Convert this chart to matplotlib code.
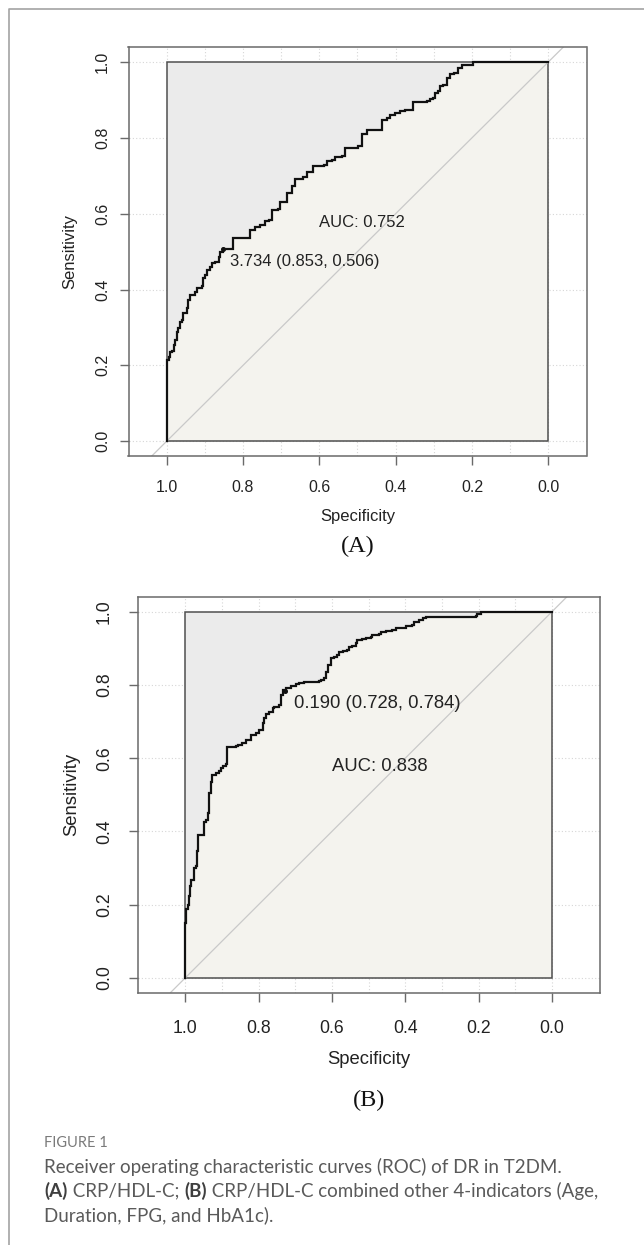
import matplotlib
matplotlib.use('Agg')
import matplotlib.pyplot as plt
from matplotlib.patches import Rectangle

# ---------------- data ----------------
spec_a = [1.000, 1.000, 0.995, 0.991, 0.986, 0.982, 0.978, 0.973, 0.969, 0.965, 0.960, 0.956,
          0.947, 0.943, 0.938, 0.925, 0.921, 0.908, 0.904, 0.899, 0.895, 0.886, 0.882, 0.873,
          0.864, 0.860, 0.853, 0.825, 0.825, 0.790, 0.781, 0.768, 0.755, 0.742, 0.733, 0.724,
          0.707, 0.703, 0.690, 0.685, 0.672, 0.663, 0.642, 0.633, 0.616, 0.589, 0.580, 0.567,
          0.559, 0.541, 0.532, 0.498, 0.489, 0.475, 0.445, 0.436, 0.423, 0.415, 0.402, 0.388,
          0.375, 0.362, 0.354, 0.318, 0.310, 0.301, 0.297, 0.288, 0.284, 0.275, 0.266, 0.257,
          0.247, 0.237, 0.226, 0.204, 0.197, 0.000]
sens_a = [0.000, 0.214, 0.223, 0.236, 0.238, 0.254, 0.267, 0.289, 0.298, 0.315, 0.320, 0.337,
          0.350, 0.373, 0.386, 0.394, 0.403, 0.408, 0.430, 0.439, 0.452, 0.460, 0.469, 0.473,
          0.487, 0.500, 0.507, 0.507, 0.536, 0.536, 0.557, 0.566, 0.571, 0.581, 0.584, 0.609,
          0.612, 0.630, 0.632, 0.654, 0.672, 0.691, 0.698, 0.711, 0.725, 0.729, 0.738, 0.741,
          0.750, 0.753, 0.773, 0.778, 0.810, 0.820, 0.821, 0.846, 0.853, 0.861, 0.866, 0.870,
          0.873, 0.873, 0.894, 0.896, 0.903, 0.905, 0.917, 0.923, 0.936, 0.940, 0.958, 0.967,
          0.972, 0.984, 0.991, 0.991, 1.000, 1.000]

spec_b = [1.000, 1.000, 0.997, 0.993, 0.991, 0.987, 0.985, 0.975, 0.975, 0.971, 0.968, 0.966,
          0.953, 0.950, 0.944, 0.939, 0.936, 0.930, 0.926, 0.916, 0.907, 0.903, 0.898, 0.889,
          0.886, 0.862, 0.857, 0.844, 0.835, 0.821, 0.807, 0.798, 0.789, 0.785, 0.780, 0.771,
          0.762, 0.757, 0.744, 0.739, 0.733, 0.726, 0.712, 0.698, 0.689, 0.676, 0.635, 0.630,
          0.621, 0.617, 0.612, 0.603, 0.594, 0.585, 0.580, 0.571, 0.558, 0.553, 0.544, 0.535,
          0.531, 0.517, 0.508, 0.494, 0.490, 0.471, 0.467, 0.453, 0.435, 0.426, 0.408, 0.399,
          0.381, 0.376, 0.362, 0.353, 0.344, 0.208, 0.204, 0.194, 0.000]
sens_b = [0.000, 0.151, 0.187, 0.199, 0.223, 0.250, 0.268, 0.276, 0.300, 0.305, 0.346, 0.391,
          0.391, 0.427, 0.432, 0.450, 0.505, 0.536, 0.555, 0.559, 0.564, 0.573, 0.579, 0.584,
          0.630, 0.632, 0.636, 0.641, 0.650, 0.664, 0.668, 0.677, 0.696, 0.709, 0.721, 0.725,
          0.737, 0.741, 0.746, 0.773, 0.786, 0.793, 0.798, 0.802, 0.805, 0.807, 0.811, 0.814,
          0.818, 0.836, 0.855, 0.875, 0.877, 0.882, 0.889, 0.893, 0.896, 0.905, 0.907, 0.914,
          0.923, 0.925, 0.929, 0.932, 0.936, 0.938, 0.944, 0.947, 0.950, 0.955, 0.956, 0.962,
          0.964, 0.973, 0.977, 0.982, 0.986, 0.988, 0.995, 1.000, 1.000]

thr_a = (0.853, 0.506)
thr_b = (0.728, 0.784)
thr_label_a = "3.734 (0.853, 0.506)"
thr_label_b = "0.190 (0.728, 0.784)"
auc_label_a = "AUC: 0.752"
auc_label_b = "AUC: 0.838"

tick_vals = [1.0, 0.8, 0.6, 0.4, 0.2, 0.0]
tick_labels = ["1.0", "0.8", "0.6", "0.4", "0.2", "0.0"]
grid_x = [i / 10 for i in range(11)]
grid_y = [0.0, 0.2, 0.4, 0.6, 0.8, 1.0]

caption_title = "FIGURE 1"
caption_line1 = "Receiver operating characteristic curves (ROC) of DR in T2DM."
caption_line2 = [("(A)", "bold"), (" CRP/HDL-C; ", "normal"), ("(B)", "bold"),
                 (" CRP/HDL-C combined other 4-indicators (Age,", "normal")]
caption_line3 = "Duration, FPG, and HbA1c)."

# ---------------- figure ----------------
W, H = 644, 1245
fig = plt.figure(figsize=(W / 100, H / 100), dpi=100)
fig.patch.set_facecolor('white')

SANS = ['Liberation Sans', 'DejaVu Sans']
SERIF = ['Liberation Serif', 'DejaVu Serif']
CAP = ['Lato', 'DejaVu Sans']

GRAY_FILL = '#ebebeb'
BEIGE_FILL = '#f4f3ee'
SPINE = '#6a6a6a'


def frac(px, py):
    return px / W, 1 - py / H


# outer frame (top and left border)
fig.add_artist(plt.Line2D([9.3 / W, 9.3 / W, 1.0], [0.0, 1 - 9.3 / H, 1 - 9.3 / H],
                          transform=fig.transFigure, color='#a3a3a3', lw=1.2))


def panel(box_px, xlim, spec, sens, thr, thr_label, thr_txt_xy, auc_label, auc_xy,
          fs_tick, fs_txt, tick_pad_x, tick_pad_y):
    l, t, r, b = box_px
    ax = fig.add_axes([l / W, 1 - b / H, (r - l) / W, (b - t) / H])
    ax.set_xlim(xlim)
    ax.set_ylim(-0.04, 1.04)
    for s in ax.spines.values():
        s.set_color(SPINE)
        s.set_linewidth(1.1)
    # grid
    for gx in grid_x:
        ax.axvline(gx, color='#d6d6d6', lw=0.8, ls=(0, (1, 2)), zorder=0)
    for gy in grid_y:
        ax.axhline(gy, color='#d6d6d6', lw=0.8, ls=(0, (1, 2)), zorder=0)
    # polygons
    ax.fill_between(spec, sens, 1, step='post', color=GRAY_FILL, lw=0, zorder=1)
    ax.fill_between(spec, 0, sens, step='post', color=BEIGE_FILL, lw=0, zorder=1)
    ax.add_patch(Rectangle((0, 0), 1, 1, fill=False, ec='#4f4f4f', lw=1.1, zorder=2))
    # identity line
    ax.axline((0, 1), (1, 0), color='#c9c9c9', lw=0.9, zorder=2.5)
    # curve
    ax.plot(spec, sens, drawstyle='steps-post', color='#111111', lw=1.6, zorder=3,
            solid_joinstyle='miter')
    ax.plot([thr[0]], [thr[1]], 'o', color='#111111', ms=2.6, zorder=4)
    ax.text(thr_txt_xy[0], thr_txt_xy[1], thr_label, ha='left', va='center',
            fontsize=fs_txt, family=SANS, color='#222222', zorder=5)
    ax.text(auc_xy[0], auc_xy[1], auc_label, ha='left', va='center',
            fontsize=fs_txt, family=SANS, color='#222222', zorder=5)
    # ticks
    ax.set_xticks(tick_vals)
    ax.set_xticklabels(tick_labels, family=SANS, fontsize=fs_tick, color='#222222')
    ax.set_yticks(tick_vals)
    ax.set_yticklabels(tick_labels, family=SANS, fontsize=fs_tick, color='#222222',
                       rotation=90, va='center')
    ax.tick_params(axis='both', direction='out', length=6.7, width=1.0, color=SPINE)
    ax.tick_params(axis='x', pad=tick_pad_x)
    ax.tick_params(axis='y', pad=tick_pad_y)
    return ax


axA = panel((128.5, 46.8, 586.5, 456.4), (1.1, -0.1), spec_a, sens_a, thr_a, thr_label_a,
            (0.833, 0.474), auc_label_a, (0.602, 0.578), 11.5, 12, 10.5, 6.5)
axB = panel((137.6, 597.1, 599.6, 992.5), (1.13, -0.13), spec_b, sens_b, thr_b, thr_label_b,
            (0.704, 0.750), auc_label_b, (0.600, 0.578), 12.7, 13.3, 13.3, 11.0)

# axis labels and panel letters
fig.text(*frac(357.5, 516), "Specificity", ha='center', va='center', fontsize=12,
         family=SANS, color='#222222')
fig.text(*frac(70, 251.6), "Sensitivity", ha='center', va='center', fontsize=12,
         family=SANS, color='#222222', rotation=90)
fig.text(*frac(357.5, 546), "(A)", ha='center', va='center', fontsize=17.5,
         family=SERIF, color='#111111')

fig.text(*frac(368.6, 1059.3), "Specificity", ha='center', va='center', fontsize=13.3,
         family=SANS, color='#222222')
fig.text(*frac(71.9, 794.8), "Sensitivity", ha='center', va='center', fontsize=13.3,
         family=SANS, color='#222222', rotation=90)
fig.text(*frac(369.5, 1100.4), "(B)", ha='center', va='center', fontsize=17.5,
         family=SERIF, color='#111111')

# caption
CAP_COLOR = '#5a5a5a'
CAP_FS = 13.5
x0 = 44.4
fig.text(*frac(x0, 1143), caption_title, ha='left', va='center', fontsize=10.5,
         family=CAP, color='#7a7a7a')
fig.text(*frac(x0, 1167), caption_line1, ha='left', va='center', fontsize=CAP_FS,
         family=CAP, color=CAP_COLOR)
renderer = fig.canvas.get_renderer()
xc = x0 / W
for txt, wt in caption_line2:
    tt = fig.text(xc, 1 - 1191 / H, txt, ha='left', va='center', fontsize=CAP_FS,
                  family=CAP, color='#3f3f3f' if wt == 'bold' else CAP_COLOR, fontweight=wt)
    xc += tt.get_window_extent(renderer=renderer).width / W
fig.text(*frac(x0, 1215), caption_line3, ha='left', va='center', fontsize=CAP_FS,
         family=CAP, color=CAP_COLOR)

fig.savefig('out.png', dpi=100, facecolor='white')
